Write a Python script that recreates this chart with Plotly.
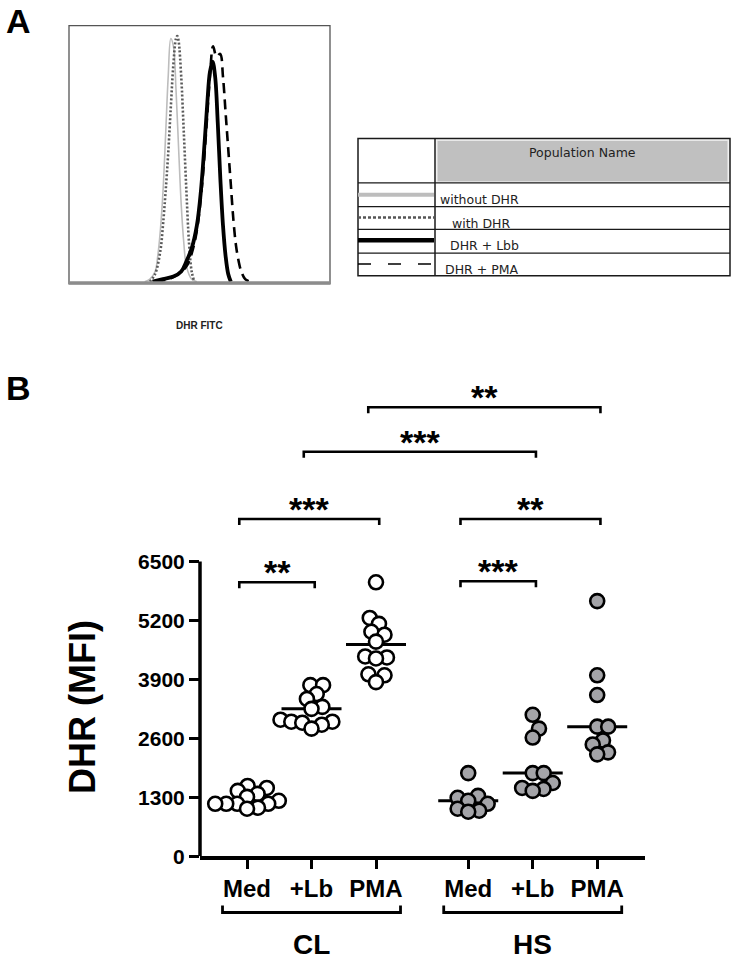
import math
import plotly.graph_objects as go

# ---------------- data: panel A (flow histogram, channel units 0-100, % of max) -------------
without_x = [29, 31, 33, 34, 35, 36, 37, 38, 39, 40, 41, 42, 43, 44, 45, 47, 49]
without_y = [0, 1, 4, 10, 20, 35, 57, 80, 95, 92, 75, 52, 30, 15, 6, 1, 0]

withdhr_x = [31, 33, 35, 36, 37, 38, 39, 40, 41, 41.5, 42, 43, 44, 45, 46, 47, 48]
withdhr_y = [0, 3, 12, 22, 35, 50, 68, 85, 95, 96, 94, 80, 58, 35, 15, 4, 0]

lbb_x = [32, 36, 40, 43, 45, 47, 49, 50.5, 52, 53, 54, 55, 56, 57, 58, 59, 60, 61, 62]
lbb_y = [0, 1, 2, 4, 8, 13, 22, 35, 55, 70, 82, 86, 80, 62, 40, 22, 10, 3, 0]

pma_x = [33, 38, 42, 45, 47, 49, 51, 52.5, 54, 55.2, 56.5, 57.9, 59, 60, 61, 62, 63, 64, 65, 66, 67.5, 69.5]
pma_y = [0, 1, 3, 6, 11, 20, 38, 58, 80, 92, 88, 89, 80, 66, 52, 38, 24, 14, 8, 4, 1, 0]

legend_names = ["without DHR", "with DHR", "DHR + Lbb", "DHR + PMA"]

# ---------------- data: panel B (DHR MFI) ----------------
categories = ["Med", "+Lb", "PMA"]
groups = ["CL", "HS"]
cl_med = [1549, 1505, 1440, 1374, 1309, 1221, 1156, 1156, 1156, 1156, 1069, 1047]
cl_lb = [3773, 3773, 3577, 3468, 3293, 3250, 3010, 2966, 2966, 2944, 2900, 2814]
cl_pma = [6042, 5256, 5125, 4951, 4886, 4733, 4406, 4384, 4362, 4013, 3991, 3839]
hs_med = [1832, 1330, 1287, 1221, 1156, 1047, 1003, 981]
hs_lb = [3119, 2814, 2617, 1832, 1832, 1614, 1505, 1483, 1440]
hs_pma = [5627, 3991, 3555, 2857, 2857, 2552, 2465, 2290, 2246]
medians_cl = [1221, 3250, 4667]
medians_hs = [1221, 1832, 2857]
y_ticks = [0, 1300, 2600, 3900, 5200, 6500]
# (first column index, second column index, bracket level in MFI, label)
comparisons = [(0, 1, 6042, "**"), (0, 2, 7438, "***"), (3, 4, 6064, "***"),
               (3, 5, 7438, "**"), (1, 4, 8921, "***"), (2, 5, 9903, "**")]

# ---------------- layout geometry ----------------
W, H = 734, 968
FONT = "Liberation Sans, Arial, sans-serif"


def px(x):
    return x / W


def py(y):
    return 1 - y / H


GROUP_GAP = 1.43
xpos = [1, 2, 3, 3 + GROUP_GAP, 4 + GROUP_GAP, 5 + GROUP_GAP]
XB_L, XB_R = 200, 645
XR = [0.271, 7.171]
YB_BOT = 866
PX_PER_VAL = 298 / 6500
YR = [0, 11000]
YB_TOP = YB_BOT - YR[1] * PX_PER_VAL
PX_PER_UNIT = (XB_R - XB_L) / (XR[1] - XR[0])


def swarm(vals, D=11.0):
    placed = []
    offs = [0.0] * len(vals)
    order = sorted(range(len(vals)), key=lambda i: vals[i])
    for i in order:
        y = vals[i] * PX_PER_VAL
        cands = [0.0]
        for xj, yj in placed:
            dy = abs(y - yj)
            if dy < D:
                dx = math.sqrt(D * D - dy * dy)
                cands += [xj + dx, xj - dx]
        cands.sort(key=abs)
        x = 0.0
        for c in cands:
            if all((c - xj) ** 2 + (y - yj) ** 2 >= D * D - 1e-6 for xj, yj in placed):
                x = c
                break
        placed.append((x, y))
        offs[i] = x / PX_PER_UNIT
    return offs


fig = go.Figure()

# ---------------- panel A traces ----------------
fig.add_trace(go.Scatter(x=without_x, y=without_y, mode="lines", line=dict(color="#bdbdbd", width=1.6, shape="spline"),
                         xaxis="x", yaxis="y", hoverinfo="skip"))
fig.add_trace(go.Scatter(x=withdhr_x, y=withdhr_y, mode="lines",
                         line=dict(color="#5a5a5a", width=2.6, dash="2px,2px", shape="spline"),
                         xaxis="x", yaxis="y", hoverinfo="skip"))
fig.add_trace(go.Scatter(x=pma_x, y=pma_y, mode="lines", line=dict(color="black", width=2.6, dash="10px,6px", shape="spline"),
                         xaxis="x", yaxis="y", hoverinfo="skip"))
fig.add_trace(go.Scatter(x=lbb_x, y=lbb_y, mode="lines", line=dict(color="black", width=3.8, shape="spline"),
                         xaxis="x", yaxis="y", hoverinfo="skip"))

# ---------------- panel B traces ----------------
series = [cl_med, cl_lb, cl_pma, hs_med, hs_lb, hs_pma]
medians = medians_cl + medians_hs
HALF = 30 / PX_PER_UNIT
for k, vals in enumerate(series):
    fig.add_trace(go.Scatter(x=[xpos[k] - HALF, xpos[k] + HALF], y=[medians[k]] * 2, mode="lines",
                             line=dict(color="black", width=3), xaxis="x2", yaxis="y2", hoverinfo="skip"))
for k, vals in enumerate(series):
    offs = swarm(vals)
    fill = "white" if k < 3 else "#a4a4a8"
    fig.add_trace(go.Scatter(x=[xpos[k] + o for o in offs], y=vals, mode="markers",
                             marker=dict(size=14, color=fill, line=dict(color="black", width=2.6)),
                             xaxis="x2", yaxis="y2"))

shapes = []
annotations = []

# panel A frame and baseline
shapes.append(dict(type="rect", xref="paper", yref="paper", x0=px(69), x1=px(330), y0=py(287), y1=py(26),
                   line=dict(color="#555555", width=1.3), layer="above"))
shapes.append(dict(type="line", xref="paper", yref="paper", x0=px(69), x1=px(330), y0=py(286), y1=py(286),
                   line=dict(color="#8c8c8c", width=3), layer="above"))

# panel A legend table
shapes.append(dict(type="rect", xref="paper", yref="paper", x0=px(437), x1=px(728), y0=py(184), y1=py(142),
                   fillcolor="#c0c0c0", line=dict(color="#e8e8e8", width=1.2)))
shapes.append(dict(type="rect", xref="paper", yref="paper", x0=px(358), x1=px(730), y0=py(279), y1=py(140),
                   line=dict(color="#1a1a1a", width=1.5)))
shapes.append(dict(type="line", xref="paper", yref="paper", x0=px(435), x1=px(435), y0=py(279), y1=py(140),
                   line=dict(color="#1a1a1a", width=1.5)))
for yy in [185, 209, 232, 256]:
    shapes.append(dict(type="line", xref="paper", yref="paper", x0=px(358), x1=px(730), y0=py(yy), y1=py(yy),
                       line=dict(color="#1a1a1a", width=1.3)))
legend_styles = [dict(color="#bdbdbd", width=4), dict(color="#555555", width=2.6, dash="3px,2px"),
                 dict(color="black", width=4.5), dict(color="black", width=1.6, dash="13px,17px")]
legend_line_y = [197, 220, 243, 267]
legend_text_x = [438, 450, 448, 443]
legend_text_y = [202, 226, 248, 273]
for name, st, ly, tx, ty in zip(legend_names, legend_styles, legend_line_y, legend_text_x, legend_text_y):
    shapes.append(dict(type="line", xref="paper", yref="paper", x0=px(358), x1=px(434), y0=py(ly), y1=py(ly), line=st))
    annotations.append(dict(text=name, xref="paper", yref="paper", x=px(tx), y=py(ty), xanchor="left",
                            yanchor="middle", showarrow=False, font=dict(family="DejaVu Sans", size=12.5, color="#222")))
annotations.append(dict(text="Population Name", xref="paper", yref="paper", x=px(582), y=py(154), xanchor="center",
                        yanchor="middle", showarrow=False, font=dict(family="DejaVu Sans", size=12.5, color="#222")))

# panel labels
annotations.append(dict(text="A", xref="paper", yref="paper", x=px(18), y=py(21), xanchor="center", yanchor="middle",
                        showarrow=False, font=dict(family=FONT, size=34, color="black", weight="bold")))
annotations.append(dict(text="B", xref="paper", yref="paper", x=px(18), y=py(392), xanchor="center", yanchor="middle",
                        showarrow=False, font=dict(family=FONT, size=34, color="black", weight="bold")))
annotations.append(dict(text="DHR FITC", xref="paper", yref="paper", x=px(199), y=py(329), xanchor="center",
                        yanchor="middle", showarrow=False, font=dict(family=FONT, size=10, color="#222", weight="bold")))

# panel B y axis line (only up to 6500)
shapes.append(dict(type="line", xref="paper", yref="y2", x0=px(XB_L), x1=px(XB_L), y0=0, y1=y_ticks[-1],
                   line=dict(color="black", width=3.5)))

# y title
annotations.append(dict(text="DHR (MFI)", xref="paper", yref="paper", x=px(83), y=py(715), xanchor="center",
                        yanchor="middle", textangle=-90, showarrow=False,
                        font=dict(family=FONT, size=36, color="black", weight="bold")))

# significance brackets
TICK = 6 / PX_PER_VAL
for i, j, lev, lab in comparisons:
    x0, x1 = xpos[i] - 0.12, xpos[j] + 0.05
    shapes.append(dict(type="path", xref="x2", yref="y2",
                       path=f"M {x0},{lev - TICK} L {x0},{lev} L {x1},{lev} L {x1},{lev - TICK}",
                       line=dict(color="black", width=2.6)))
    annotations.append(dict(text=lab, xref="x2", yref="y2", x=(x0 + x1) / 2, y=lev, yshift=10, xanchor="center",
                            yanchor="middle", showarrow=False,
                            font=dict(family=FONT, size=34, color="black", weight="bold")))

# group brackets below x axis
for g, name in enumerate(groups):
    a, b = xpos[3 * g] - 0.38, xpos[3 * g + 2] + 0.38
    shapes.append(dict(type="path", xref="x2", yref="paper",
                       path=f"M {a},{py(916)} L {a},{py(923)} L {b},{py(923)} L {b},{py(916)}",
                       line=dict(color="black", width=2.8)))
    annotations.append(dict(text=name, xref="x2", yref="paper", x=xpos[3 * g + 1], y=py(955), xanchor="center",
                            yanchor="middle", showarrow=False,
                            font=dict(family=FONT, size=28, color="black", weight="bold")))

fig.update_layout(
    width=W, height=H, margin=dict(l=0, r=0, t=0, b=0),
    paper_bgcolor="white", plot_bgcolor="white", showlegend=False,
    xaxis=dict(domain=[px(69), px(330)], range=[0, 100], showgrid=False, zeroline=False, showticklabels=False,
               ticks="", showline=False, anchor="y"),
    yaxis=dict(domain=[py(287), py(26)], range=[-0.8, 100], showgrid=False, zeroline=False, showticklabels=False,
               ticks="", showline=False, anchor="x"),
    xaxis2=dict(domain=[px(XB_L), px(XB_R)], range=XR, anchor="y2", showgrid=False, zeroline=False,
                showline=True, linecolor="black", linewidth=3.5, ticks="outside", ticklen=9, tickwidth=3,
                tickcolor="black", tickvals=xpos, ticktext=categories * 2,
                tickfont=dict(family=FONT, size=24, color="black", weight="bold")),
    yaxis2=dict(domain=[py(YB_BOT), py(YB_TOP)], range=YR, anchor="x2", showgrid=False, zeroline=False,
                showline=False, ticks="outside", ticklen=10, tickwidth=3, tickcolor="black",
                tickvals=y_ticks, ticktext=[str(v) for v in y_ticks],
                tickfont=dict(family=FONT, size=21, color="black", weight="bold")),
    shapes=shapes, annotations=annotations,
)

fig.write_html("out.html", config={"displayModeBar": False, "staticPlot": True},
               post_script="document.body.style.margin='0';document.body.style.overflow='hidden';")
